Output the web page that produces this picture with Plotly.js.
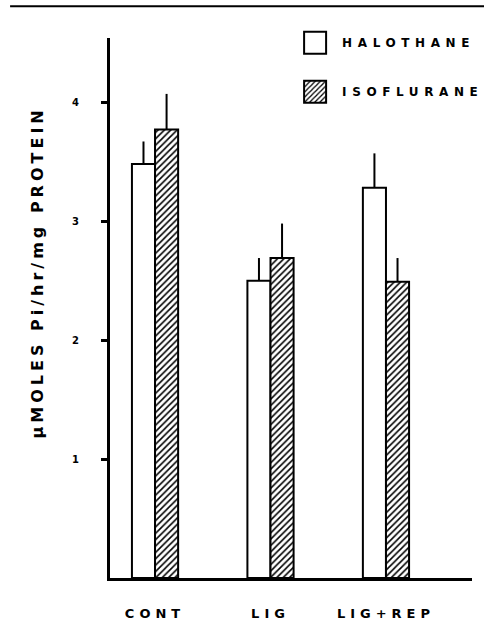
<!DOCTYPE html>
<html>
<head>
<meta charset="utf-8">
<script src="https://cdn.plot.ly/plotly-3.0.1.min.js"></script>
<style>
html,body{margin:0;padding:0;background:#fff;}
#chart{width:484px;height:634px;}
</style>
</head>
<body>
<div id="chart"></div>
<script>
const categories = ['CONT', 'LIG', 'LIG+REP'];
const halothane = [3.48, 2.5, 3.28];
const halothaneErr = [0.19, 0.19, 0.29];
const isoflurane = [3.77, 2.69, 2.49];
const isofluraneErr = [0.3, 0.29, 0.2];
const yTickVals = [1, 2, 3, 4];
const yTickText = ['1', '2', '3', '4'];
const seriesNames = ['HALOTHANE', 'ISOFLURANE'];
const yTitle = '\u03bcMOLES Pi/hr/mg PROTEIN';

const FONT = 'DejaVu Sans, Verdana, sans-serif';

const traces = [
  {
    type: 'bar', name: seriesNames[0], x: categories, y: halothane, legendgroup: 'h',
    marker: {color: 'white', line: {color: 'black', width: 2}},
    error_y: {type: 'data', symmetric: false, array: halothaneErr, arrayminus: [0, 0, 0],
              width: 0, thickness: 2, color: 'black'}
  },
  {
    type: 'bar', name: seriesNames[1], x: categories, y: isoflurane, legendgroup: 'i',
    marker: {color: 'white', line: {color: 'black', width: 2},
             pattern: {shape: '/', fgcolor: 'black', bgcolor: 'white', size: 4.5, solidity: 0.35}},
    error_y: {type: 'data', symmetric: false, array: isofluraneErr, arrayminus: [0, 0, 0],
              width: 0, thickness: 2, color: 'black'}
  }
];

const layout = {
  width: 484, height: 634,
  margin: {l: 110, r: 12, t: 38, b: 56, pad: 0},
  paper_bgcolor: 'white', plot_bgcolor: 'white',
  barmode: 'group', bargap: 0.6, bargroupgap: 0,
  font: {family: FONT, color: 'black'},
  showlegend: true,
  legend: {
    x: 0.492, y: 0.946, xanchor: 'left', yanchor: 'middle',
    bgcolor: 'rgba(0,0,0,0)', borderwidth: 0, itemwidth: 44,
    traceorder: 'grouped', tracegroupgap: 30,
    font: {family: FONT, size: 12, weight: 'bold', color: 'black'},
    itemclick: false, itemdoubleclick: false
  },
  xaxis: {
    type: 'category', range: [-0.39, 2.745],
    showline: true, linewidth: 3, linecolor: 'black',
    ticks: '', showgrid: false, zeroline: false,
    tickfont: {family: FONT, size: 13, weight: 'bold', color: 'black'},
    ticklabelstandoff: 21, fixedrange: true
  },
  yaxis: {
    range: [0, 4.54], tickmode: 'array', tickvals: yTickVals, ticktext: yTickText,
    ticks: 'outside', ticklen: 6, tickwidth: 3, tickcolor: 'black',
    showline: true, linewidth: 3, linecolor: 'black',
    showgrid: false, zeroline: false,
    tickfont: {family: FONT, size: 10, weight: 'bold', color: 'black'},
    ticklabelstandoff: 20, fixedrange: true
  },
  annotations: [{
    text: yTitle, xref: 'paper', yref: 'paper', x: -0.2, y: 0.565,
    xanchor: 'center', yanchor: 'middle', textangle: -90, showarrow: false,
    font: {family: FONT, size: 16, weight: 'bold', color: 'black'}
  }],
  shapes: [{
    type: 'line', xref: 'paper', yref: 'paper', x0: -0.276, x1: 1.04, y0: 1.059, y1: 1.059,
    line: {color: 'black', width: 2}
  }]
};

function restyleText(gd) {
  gd.querySelectorAll('.xtick text').forEach(function (t) { t.style.letterSpacing = '5px'; });
  gd.querySelectorAll('.legendtext').forEach(function (t) { t.style.letterSpacing = '5.6px'; });
  gd.querySelectorAll('.annotation-text').forEach(function (t) { t.style.letterSpacing = '4px'; });
  gd.querySelectorAll('.infolayer .scrollbox').forEach(function (s) { s.removeAttribute('clip-path'); });
  gd.querySelectorAll('.legendpoints path').forEach(function (p) {
    p.setAttribute('d', 'M11,11H-11V-11H11Z');
  });
}

Plotly.newPlot('chart', traces, layout, {staticPlot: true, displayModeBar: false}).then(function (gd) {
  restyleText(gd);
  setTimeout(function () { restyleText(gd); }, 50);
  setTimeout(function () { restyleText(gd); }, 300);
});
</script>
</body>
</html>
